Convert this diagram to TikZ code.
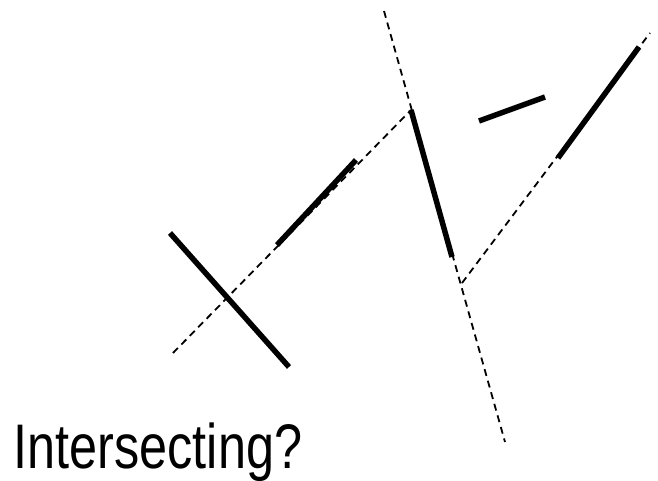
\documentclass[tikz,border=0pt]{standalone}
\usepackage{fontspec}
\newfontfamily\labelfont[FakeStretch=0.8]{Liberation Sans}
\usetikzlibrary{calc}
\usepackage{tkz-euclide}

\begin{document}
\begin{tikzpicture}[x=1pt,y=-1pt]
\useasboundingbox (0,0) rectangle (658,481);
\tkzSetUpLine[line width=5.5pt,color=black]

% guide lines
\tkzDefPoints{173/353/P1,411/110/P2,384/11/Q1,505/442/Q2,462/283/R1,650/33/R2}
% thick pieces
\tkzDefPoints{170/233/A,289/367/B,277/245/C,356/160/D,411/110/E,452/257/F}
\tkzDefPoints{479/121/G,545/97/H,558/158/K,639/47/L}

\tkzDrawSegments[line width=1.8pt,line cap=butt,dash pattern=on 7pt off 5pt](P1,P2 Q1,Q2 R1,R2)

\tkzDrawSegments[line width=5.5pt,line cap=butt](A,B C,D E,F G,H K,L)

\node[anchor=base west,inner sep=0pt] (caption) at (13.5,468)
  {\labelfont\fontsize{63}{70}\selectfont Intersecting?};

\end{tikzpicture}
\end{document}
